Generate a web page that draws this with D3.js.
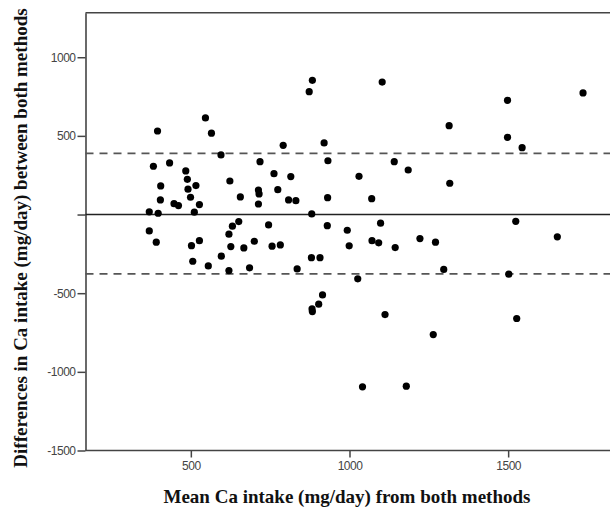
<!DOCTYPE html>
<html>
<head>
<meta charset="utf-8">
<script src="https://cdn.jsdelivr.net/npm/d3@7"></script>
<style>
  body { margin: 0; background: #fff; }
  svg { display: block; }
  .tick text { font-family: "Liberation Sans", Arial, sans-serif; font-size: 12px; fill: #444; letter-spacing: -0.5px; }
  .title { font-family: "Liberation Serif", "Times New Roman", serif; font-weight: bold; font-size: 19px; fill: #111; }
</style>
</head>
<body>
<svg width="610" height="513"></svg>
<script>
// mean of both methods (mg/day)
var meanCa = [395, 546, 565, 595, 382, 433, 484, 489, 405, 516, 491, 623, 404, 499, 447, 461, 527, 656,
  713, 713, 718, 369, 397, 511, 369, 391, 651, 631, 620, 527, 502, 626, 667, 700, 506, 555, 596, 620, 685,
  715, 883, 873, 1103, 1314, 791, 920, 932, 1141, 1185, 762, 815, 1030, 1316, 774, 808, 831, 931, 1070,
  881, 745, 930, 1098, 993, 756, 782, 999, 1071, 1092, 1144, 1222, 1271, 880, 907, 835, 1026, 1297,
  915, 903, 882, 883, 1112, 1264, 1041, 1179,
  1498, 1736, 1498, 1544, 1524, 1655, 1502, 1527];
// difference between methods (mg/day)
var diffCa = [531, 614, 517, 379, 307, 328, 277, 224, 182, 184, 161, 213, 93, 110, 69, 57, 63, 112,
  156, 67, 336, 17, 8, 15, -104, -176, -45, -74, -125, -166, -198, -204, -212, -170, -297, -327, -265, -356, -339,
  131, 853, 781, 842, 565, 440, 455, 342, 336, 283, 260, 241, 243, 199, 158, 93, 88, 107, 101,
  4, -66, -71, -55, -100, -201, -193, -199, -166, -180, -210, -153, -176, -274, -274, -346, -409, -349,
  -511, -570, -600, -617, -636, -763, -1095, -1091,
  726, 773, 491, 425, -43, -142, -379, -661];
var refLine = [0];
var limits = [389, -377];
var xTicks = [500, 1000, 1500];
var yTicks = [1000, 500, 0, -500, -1000, -1500];

var svg = d3.select("svg");
var mLeft = 85.5, mRight = 610, mTop = 12.7, mBottom = 450.5;

var x = d3.scaleLinear().domain([168, 1821]).range([mLeft, mRight]);
var y = d3.scaleLinear().domain([-1500, 1283]).range([mBottom, mTop]);

// frame top
svg.append("line")
    .attr("x1", mLeft).attr("x2", mRight)
    .attr("y1", mTop).attr("y2", mTop)
    .attr("stroke", "#444").attr("stroke-width", 1.6);

var xAxis = svg.append("g")
    .attr("transform", "translate(0," + mBottom + ")")
    .call(d3.axisBottom(x).tickValues(xTicks).tickSize(7).tickPadding(4).tickSizeOuter(0)
      .tickFormat(function(d) { return String(d); }));

var yAxis = svg.append("g")
    .attr("transform", "translate(" + mLeft + ",0)")
    .call(d3.axisLeft(y).tickValues(yTicks).tickSize(8).tickPadding(2).tickSizeOuter(0)
      .tickFormat(function(d) { return d === 0 ? "" : String(d); }));

[xAxis, yAxis].forEach(function(a) {
  a.select(".domain").attr("stroke", "#444").attr("stroke-width", 1.6);
  a.selectAll(".tick line").attr("stroke", "#444").attr("stroke-width", 1.5);
});
xAxis.select(".domain").attr("d", "M" + mLeft + ",0H" + mRight);

// limits of agreement
svg.selectAll(".limit")
  .data(limits)
  .enter().append("line")
    .attr("class", "limit")
    .attr("x1", mLeft).attr("x2", mRight)
    .attr("y1", function(d) { return y(d); })
    .attr("y2", function(d) { return y(d); })
    .attr("stroke", "#555").attr("stroke-width", 1.6)
    .attr("stroke-dasharray", "8,6");

svg.selectAll(".ref")
  .data(refLine)
  .enter().append("line")
    .attr("class", "ref")
    .attr("x1", mLeft).attr("x2", mRight)
    .attr("y1", function(d) { return y(d); })
    .attr("y2", function(d) { return y(d); })
    .attr("stroke", "#222").attr("stroke-width", 1.6);

svg.append("g")
  .selectAll("circle")
  .data(meanCa.map(function(m, i) { return [m, diffCa[i]]; }))
  .enter().append("circle")
    .attr("cx", function(d) { return x(d[0]); })
    .attr("cy", function(d) { return y(d[1]); })
    .attr("r", 3.6)
    .attr("fill", "#000");

svg.append("text")
    .attr("class", "title")
    .attr("x", 347).attr("y", 503)
    .attr("text-anchor", "middle")
    .text("Mean Ca intake (mg/day) from both methods");

svg.append("text")
    .attr("class", "title")
    .attr("transform", "translate(27,238) rotate(-90)")
    .attr("text-anchor", "middle")
    .text("Differences in Ca intake (mg/day) between both methods");
</script>
</body>
</html>
